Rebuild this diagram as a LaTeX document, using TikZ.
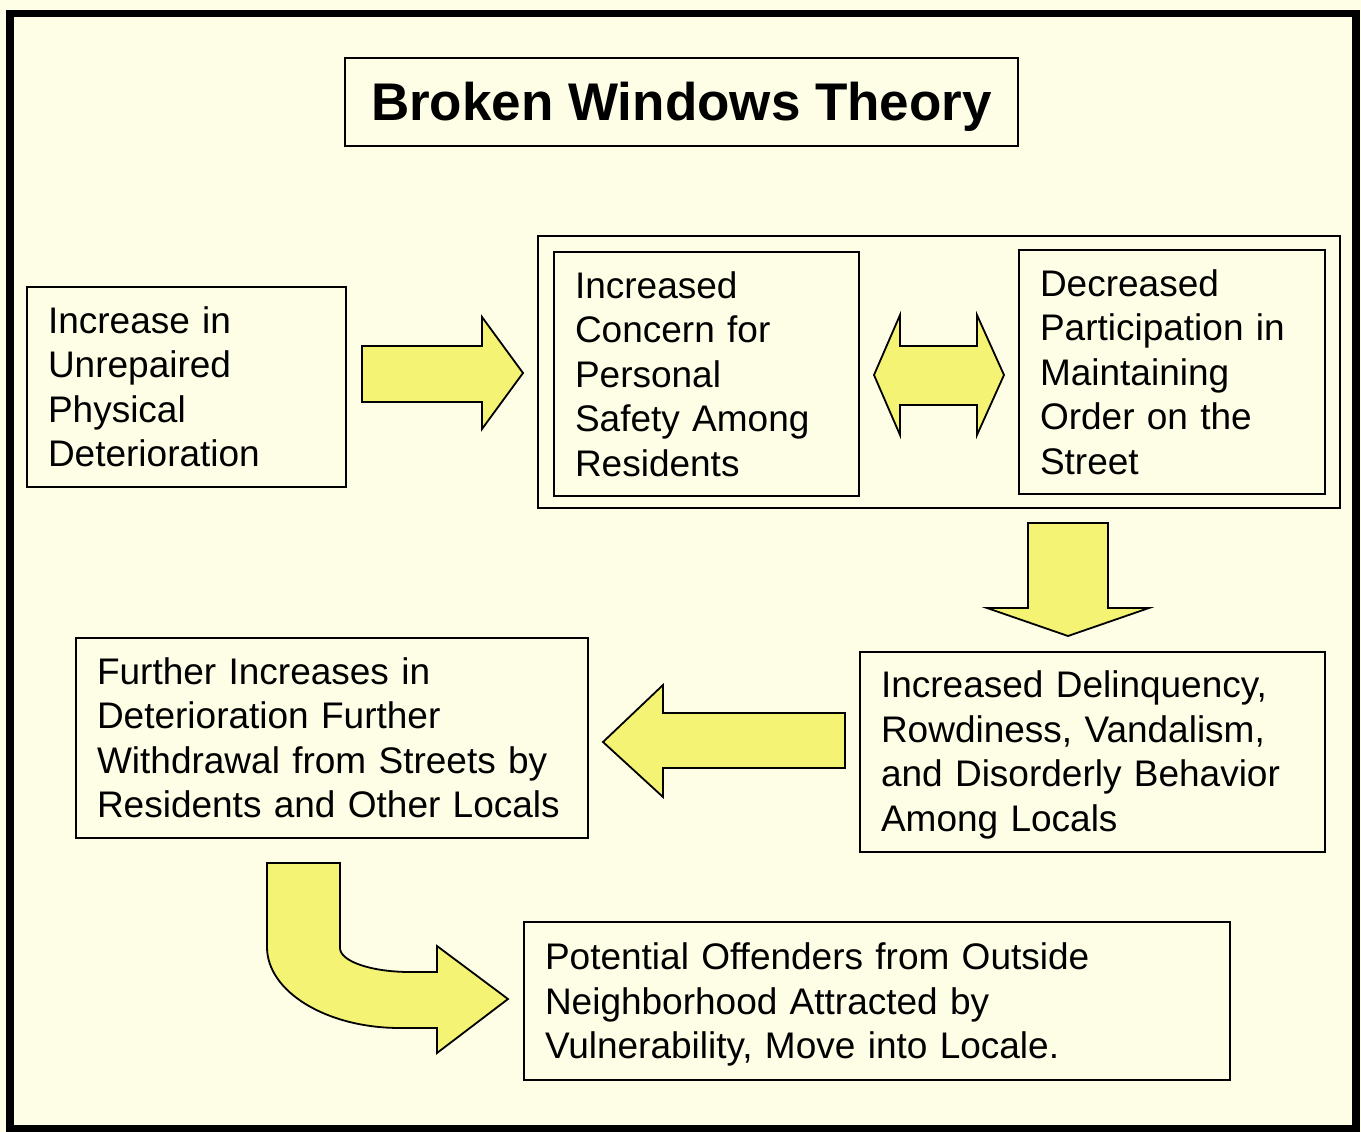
\documentclass[tikz,border=0pt]{standalone}
\usepackage{fontspec}
\setmainfont{Liberation Sans}
\definecolor{paper}{RGB}{253,254,229}
\definecolor{arrowyellow}{RGB}{244,243,115}
\begin{document}
\begin{tikzpicture}[x=1pt,y=-1pt,
  box/.style={draw=black, line width=1.8pt, fill=paper, align=left, inner xsep=21pt, inner ysep=0pt,
    font=\fontsize{37}{44.5}\selectfont, anchor=center},
  blockarrow/.style={draw=black, line width=1.8pt, fill=arrowyellow, line join=miter}
]
\useasboundingbox (0,0) rectangle (1361,1132);
\fill[paper] (0,0) rectangle (1361,1132);
\draw[line width=7.5pt] (10,13.5) rectangle (1356,1128.5);

% title
\node[draw=black, line width=1.8pt, minimum width=673pt, minimum height=88pt, inner sep=0pt,
  text height=44pt, text depth=7pt,
  font=\fontsize{53}{60}\selectfont\bfseries] (title) at (681.5,102) {Broken Windows Theory};

% group frame
\node[draw=black, line width=1.8pt, minimum width=802pt, minimum height=272pt, inner sep=0pt] (grp) at (939,372) {};

% boxes
\node[box, text width=277pt, minimum width=319pt, minimum height=200pt] (b1) at (186.5,387)
  {Increase in\\Unrepaired\\Physical\\Deterioration};
\node[box, text width=263pt, minimum width=305pt, minimum height=244pt] (b2) at (706.5,374)
  {Increased\\Concern for\\Personal\\Safety Among\\Residents};
\node[box, text width=264pt, minimum width=306pt, minimum height=244pt] (b3) at (1172,372)
  {Decreased\\Participation in\\Maintaining\\Order on the\\Street};
\node[box, text width=423pt, minimum width=465pt, minimum height=200pt] (b4) at (1092.5,752)
  {\rule{0pt}{33pt}Increased Delinquency,\\Rowdiness, Vandalism,\\and Disorderly Behavior\\Among Locals};
\node[box, text width=470pt, minimum width=512pt, minimum height=200pt] (b5) at (332,738)
  {Further Increases in\\Deterioration Further\\Withdrawal from Streets by\\Residents and Other Locals};
\node[box, text width=664pt, minimum width=706pt, minimum height=158pt] (b6) at (877,1001)
  {\rule{0pt}{34pt}Potential Offenders from Outside\\Neighborhood Attracted by\\Vulnerability, Move into Locale.};

% block arrows
\draw[blockarrow] (362,346) -- (482,346) -- (482,317) -- (523,373) -- (482,429) -- (482,402) -- (362,402) -- cycle;
\draw[blockarrow] (874,375) -- (900,315) -- (900,346) -- (977,346) -- (977,315) -- (1004,375)
  -- (977,435) -- (977,405) -- (900,405) -- (900,435) -- cycle;
\draw[blockarrow] (1028,523) -- (1108,523) -- (1108,608) -- (1149,608) -- (1068,636) -- (987,608) -- (1028,608) -- cycle;
\draw[blockarrow] (603,742) -- (663,685) -- (663,713) -- (845,713) -- (845,768) -- (663,768) -- (663,797) -- cycle;
\draw[blockarrow] (267,863) -- (340,863) -- (340,948)
  .. controls (340,961.3) and (371.3,972) .. (410,972)
  -- (437,972) -- (437,946) -- (508,999) -- (437,1053) -- (437,1028) -- (400,1028)
  .. controls (326.5,1028) and (267,991.7) .. (267,947) -- cycle;
\end{tikzpicture}
\end{document}
